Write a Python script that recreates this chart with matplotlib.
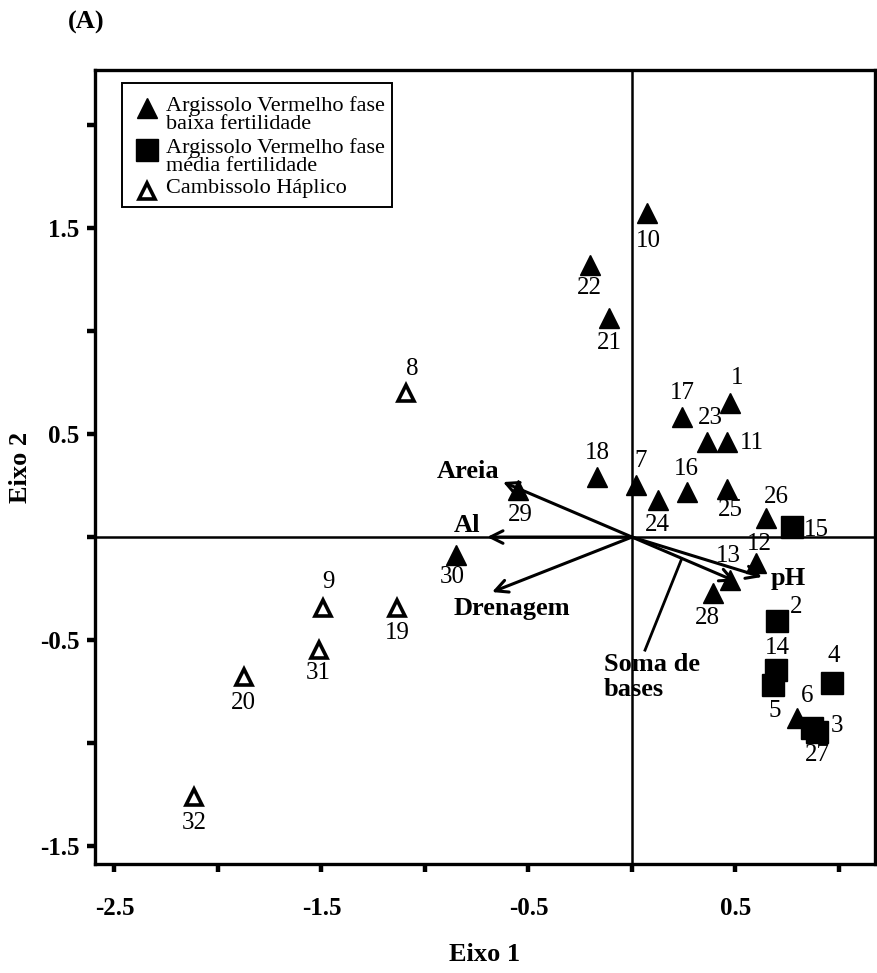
import matplotlib
matplotlib.use("Agg")
import matplotlib.pyplot as plt
from matplotlib.patches import Rectangle
from matplotlib.lines import Line2D

plt.rcParams['font.family'] = ['Liberation Serif', 'DejaVu Serif']

# ---- data ----
ids = [1, 2, 3, 4, 5, 6, 7, 8, 9, 10, 11, 12, 13, 14, 15, 16,
       17, 18, 19, 20, 21, 22, 23, 24, 25, 26, 27, 28, 29, 30, 31, 32]
eixo1 = [0.473, 0.700, 0.894, 0.966, 0.681, 0.797, 0.019, -1.092, -1.493, 0.072, 0.459, 0.599,
         0.473, 0.696, 0.773, 0.266, 0.242, -0.169, -1.135, -1.874, -0.111, -0.203, 0.362, 0.126,
         0.459, 0.647, 0.870, 0.391, -0.551, -0.850, -1.512, -2.116]
eixo2 = [0.650, -0.408, -0.947, -0.709, -0.718, -0.879, 0.252, 0.699, -0.345, 1.573, 0.461, -0.126,
         -0.209, -0.646, 0.049, 0.218, 0.583, 0.291, -0.345, -0.680, 1.063, 1.320, 0.461, 0.180,
         0.233, 0.092, -0.927, -0.272, 0.228, -0.087, -0.549, -1.262]
grupo = ['b', 'm', 'm', 'm', 'm', 'b', 'b', 'c', 'c', 'b', 'b', 'b', 'b', 'm', 'm', 'b',
         'b', 'b', 'c', 'c', 'b', 'b', 'b', 'b', 'b', 'b', 'm', 'b', 'b', 'b', 'c', 'c']
grupo_nomes = {'b': 'Argissolo Vermelho fase\nbaixa fertilidade',
               'm': 'Argissolo Vermelho fase\nmédia fertilidade',
               'c': 'Cambissolo Háplico'}

vetores = ['Areia', 'Al', 'Drenagem', 'pH', 'Soma de bases']
vet_x = [-0.623, -0.700, -0.676, 0.628, 0.50]
vet_y = [0.267, 0.0, -0.267, -0.194, -0.215]

xticks = [-2.5, -2.0, -1.5, -1.0, -0.5, 0.0, 0.5, 1.0]
xticklabels = ['-2.5', '', '-1.5', '', '-0.5', '', '0.5', '']
yticks = [-1.5, -1.0, -0.5, 0.0, 0.5, 1.0, 1.5, 2.0]
yticklabels = ['-1.5', '', '-0.5', '', '0.5', '', '1.5', '']

# label offsets (pixels) for point numbers
offs = {1: (7, 25), 2: (19, 14), 3: (20, 6), 4: (2, 27), 5: (2, -26), 6: (10, 22), 7: (5, 24),
        8: (6, 24), 9: (6, 26), 10: (1, -28), 11: (25, -1), 12: (3, 19), 13: (-2, 24),
        14: (1, 22), 15: (24, -3), 16: (-1, 23), 17: (0, 24), 18: (0, 24), 19: (0, -25),
        20: (-1, -26), 21: (0, -25), 22: (-1, -23), 23: (3, 24), 24: (-1, -25), 25: (3, -21),
        26: (10, 21), 27: (5, -27), 28: (-6, -25), 29: (2, -25), 30: (-4, -22), 31: (-1, -23),
        32: (0, -26)}

W, H = 877, 973
fig = plt.figure(figsize=(W / 100, H / 100), dpi=100)
L, R, T, B = 95, 875, 70, 864
ax = fig.add_axes([L / W, 1 - B / H, (R - L) / W, (B - T) / H])
ax.set_xlim(-2.594, 1.174)
ax.set_ylim(-1.587, 2.267)

for s in ax.spines.values():
    s.set_linewidth(2.4)
ax.axhline(0, color='black', lw=1.8, zorder=1)
ax.axvline(0, color='black', lw=1.8, zorder=1)

ax.set_xticks(xticks)
ax.set_xticklabels(xticklabels)
ax.set_yticks(yticks)
ax.set_yticklabels(yticklabels)
ax.tick_params(axis='both', direction='out', length=6, width=3.2, labelsize=18)
ax.tick_params(axis='x', pad=18)
ax.tick_params(axis='y', pad=5)
for lab in ax.get_xticklabels() + ax.get_yticklabels():
    lab.set_fontweight('bold')

ax.set_xlabel('Eixo 1', fontsize=19, fontweight='bold', labelpad=16)
ax.set_ylabel('Eixo 2', fontsize=19, fontweight='bold', labelpad=6)
fig.text(86 / W, 1 - 22 / H, '(A)', fontsize=19, fontweight='bold', ha='center', va='center')

# vectors
for name, vx, vy in zip(vetores, vet_x, vet_y):
    ax.annotate('', xy=(vx, vy), xytext=(0, 0),
                arrowprops=dict(arrowstyle='->,head_length=0.9,head_width=0.45',
                                lw=2.2, color='black', shrinkA=0, shrinkB=0), zorder=3)

# vector labels
lab_pos = {'Areia': (-0.792, 0.316), 'Al': (-0.797, 0.058), 'Drenagem': (-0.580, -0.345),
           'pH': (0.757, -0.199)}
for name, (lx, ly) in lab_pos.items():
    ax.text(lx, ly, name, fontsize=19, fontweight='bold', ha='center', va='center', zorder=5)
ax.text(-0.135, -0.680, 'Soma de\nbases', fontsize=19, fontweight='bold', ha='left',
        va='center', linespacing=1.1, zorder=5)
ax.plot([0.24, 0.063], [-0.106, -0.549], color='black', lw=2.0, zorder=3)

# points
style = {'b': dict(marker='^', ms=14, mfc='black', mec='black', mew=1),
         'm': dict(marker='s', ms=16, mfc='black', mec='black', mew=1),
         'c': dict(marker='^', ms=11, mfc='white', mec='black', mew=2.6)}
for i, x, y, g in zip(ids, eixo1, eixo2, grupo):
    ax.plot([x], [y], linestyle='none', zorder=4, **style[g])
    dx, dy = offs[i]
    ax.annotate(str(i), xy=(x, y), xytext=(dx, dy), textcoords='offset pixels',
                ha='center', va='center', fontsize=18, zorder=5)

# legend (manual)
lx0, ly0 = 122, 83
lx1, ly1 = 392, 207
def fx(px):
    return (px - L) / (R - L)
def fy(py):
    return 1 - (py - T) / (B - T)
ax.add_patch(Rectangle((fx(lx0), fy(ly1)), fx(lx1) - fx(lx0), fy(ly0) - fy(ly1),
                       transform=ax.transAxes, fill=True, facecolor='white',
                       edgecolor='black', lw=1.4, zorder=6))
entries = [('b', 108), ('m', 150), ('c', 191)]
for g, py in entries:
    st = dict(style[g])
    ax.add_line(Line2D([fx(147)], [fy(py)], transform=ax.transAxes, linestyle='none',
                       zorder=7, **st))
    ax.text(fx(166), fy(py - 12), grupo_nomes[g], transform=ax.transAxes, fontsize=16,
            ha='left', va='top', linespacing=0.95, zorder=7)

fig.savefig('out.png', dpi=100)
